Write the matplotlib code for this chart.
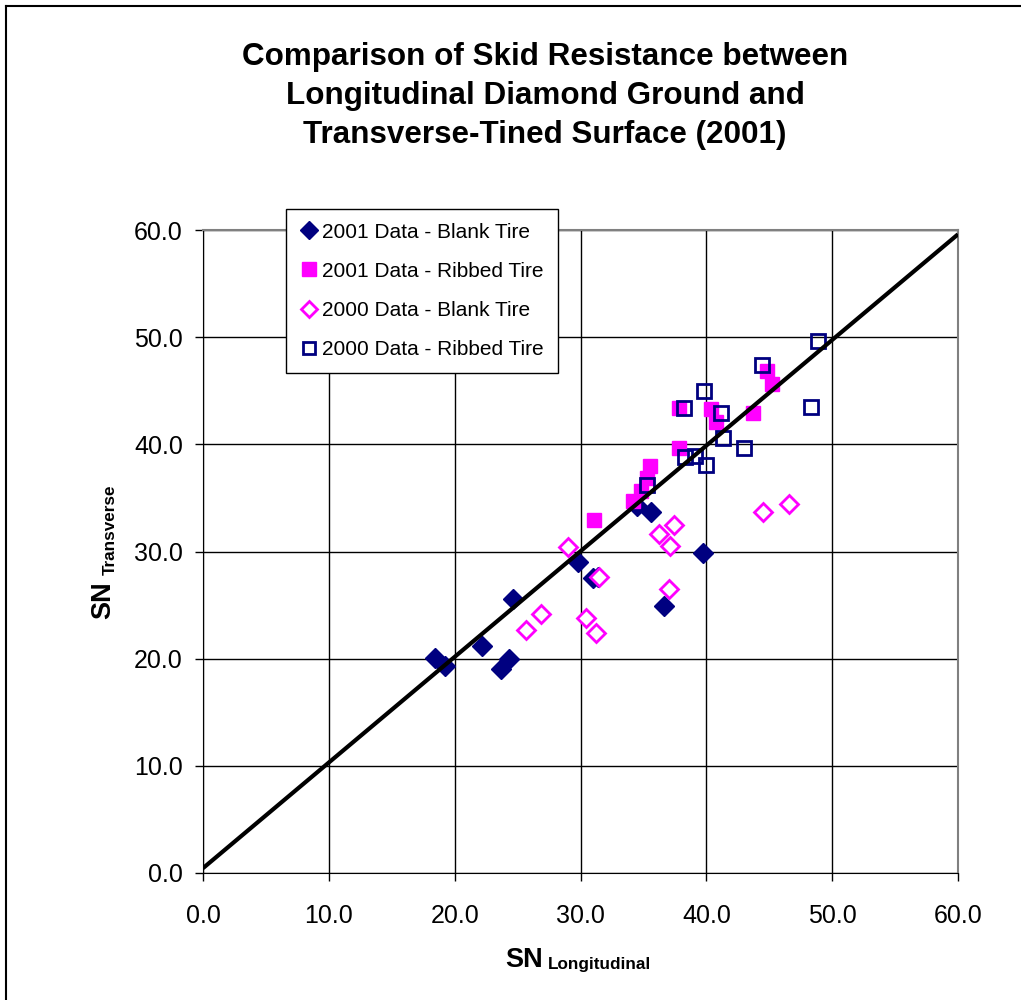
import matplotlib
matplotlib.use('Agg')
import matplotlib.pyplot as plt
from matplotlib.lines import Line2D

plt.rcParams['font.family'] = ['Liberation Sans', 'DejaVu Sans']

NAVY = '#000080'
MAGENTA = '#FF00FF'

# 2001 Data - Blank Tire
blank01_x = [18.4, 19.2, 22.2, 23.7, 24.3, 24.6, 29.8, 31.0, 31.4, 34.5, 35.6, 39.7, 36.6]
blank01_y = [20.1, 19.3, 21.2, 19.0, 20.0, 25.6, 29.0, 27.5, 27.6, 34.2, 33.7, 29.9, 24.9]

# 2001 Data - Ribbed Tire
ribbed01_x = [31.1, 34.2, 34.8, 35.3, 35.5, 37.8, 37.8, 40.4, 40.8, 43.7, 44.8, 45.2]
ribbed01_y = [32.9, 34.7, 35.6, 36.9, 38.0, 39.7, 43.4, 43.3, 42.1, 42.9, 46.8, 45.6]

# 2000 Data - Blank Tire
blank00_x = [29.0, 31.5, 26.9, 25.7, 30.4, 31.2, 36.2, 37.4, 37.1, 37.0, 44.5, 46.6]
blank00_y = [30.4, 27.6, 24.2, 22.7, 23.8, 22.4, 31.6, 32.5, 30.5, 26.5, 33.7, 34.4]

# 2000 Data - Ribbed Tire
ribbed00_x = [35.3, 38.3, 39.1, 40.0, 39.8, 38.2, 41.2, 41.3, 43.0, 44.4, 48.3, 48.9]
ribbed00_y = [36.2, 38.8, 38.9, 38.1, 45.0, 43.4, 42.9, 40.6, 39.7, 47.4, 43.5, 49.6]

# reference line
line_x = [0.0, 60.0]
line_y = [0.45, 59.6]

ticks = [0, 10, 20, 30, 40, 50, 60]
tick_labels = ['0.0', '10.0', '20.0', '30.0', '40.0', '50.0', '60.0']

W, H = 1021, 1000
fig = plt.figure(figsize=(W / 100, H / 100), dpi=100)
ax = fig.add_axes([203 / W, 1 - 873 / H, (958 - 203) / W, (873 - 230) / H])

ax.plot(blank01_x, blank01_y, linestyle='none', marker='D', ms=10,
        color=NAVY, mec=NAVY, zorder=3)
ax.plot(ribbed01_x, ribbed01_y, linestyle='none', marker='s', ms=10.5,
        color=MAGENTA, mec=MAGENTA, zorder=3)
ax.plot(blank00_x, blank00_y, linestyle='none', marker='D', ms=9,
        mfc='white', mec=MAGENTA, mew=2, zorder=3)
ax.plot(ribbed00_x, ribbed00_y, linestyle='none', marker='s', ms=10.5,
        mfc='none', mec=NAVY, mew=2, zorder=3)
ax.plot(line_x, line_y, color='black', lw=3, zorder=4, solid_capstyle='butt')

ax.set_xlim(0, 60)
ax.set_ylim(0, 60)
ax.set_xticks(ticks)
ax.set_xticklabels(tick_labels)
ax.set_yticks(ticks)
ax.set_yticklabels(tick_labels)
ax.tick_params(direction='out', length=6, width=1, colors='black', labelsize=18)
ax.tick_params(axis='x', pad=16.5)
ax.tick_params(axis='y', pad=8.5)
ax.grid(True, color='black', lw=1)
ax.set_axisbelow(True)
for side in ('left', 'bottom'):
    ax.spines[side].set_color('black')
for side in ('top', 'right'):
    ax.spines[side].set_color('#808080')
    ax.spines[side].set_linewidth(1.5)

# title
fig.text(545 / W, 1 - 96 / H,
         'Comparison of Skid Resistance between\nLongitudinal Diamond Ground and\nTransverse-Tined Surface (2001)',
         ha='center', va='center', fontsize=22.6, fontweight='bold', linespacing=1.38)

# axis labels with subscripts
fig.text(543 / W, 1 - 967 / H, 'SN', ha='right', va='baseline', fontsize=19.5, fontweight='bold')
fig.text(548 / W, 1 - 969 / H, 'Longitudinal', ha='left', va='baseline', fontsize=12.3, fontweight='bold')
fig.text(110 / W, 1 - 619 / H, 'SN', ha='left', va='baseline', rotation=90, fontsize=19.5,
         fontweight='bold', rotation_mode='anchor')
fig.text(115 / W, 1 - 575 / H, 'Transverse', ha='left', va='baseline', rotation=90, fontsize=12.3,
         fontweight='bold', rotation_mode='anchor')

handles = [
    Line2D([], [], linestyle='none', marker='D', ms=9, color=NAVY),
    Line2D([], [], linestyle='none', marker='s', ms=10, color=MAGENTA),
    Line2D([], [], linestyle='none', marker='D', ms=8, mfc='white', mec=MAGENTA, mew=2),
    Line2D([], [], linestyle='none', marker='s', ms=9, mfc='none', mec=NAVY, mew=2),
]
labels = ['2001 Data - Blank Tire', '2001 Data - Ribbed Tire',
          '2000 Data - Blank Tire', '2000 Data - Ribbed Tire']
leg = fig.legend(handles, labels, loc='upper left', bbox_to_anchor=(286 / W, 1 - 209 / H),
                 fontsize=15.0, frameon=True, fancybox=False, edgecolor='black', framealpha=1,
                 handlelength=0.95, handletextpad=0.15, labelspacing=0.97, borderpad=0.65,
                 borderaxespad=0)
leg.get_frame().set_linewidth(1)

# chart area border (left and top visible)
fig.add_artist(Line2D([6 / W, 6 / W], [0, 1 - 6 / H], color='black', lw=1.5))
fig.add_artist(Line2D([6 / W, 1], [1 - 6 / H, 1 - 6 / H], color='black', lw=1.5))

fig.savefig('out.png', dpi=100)
